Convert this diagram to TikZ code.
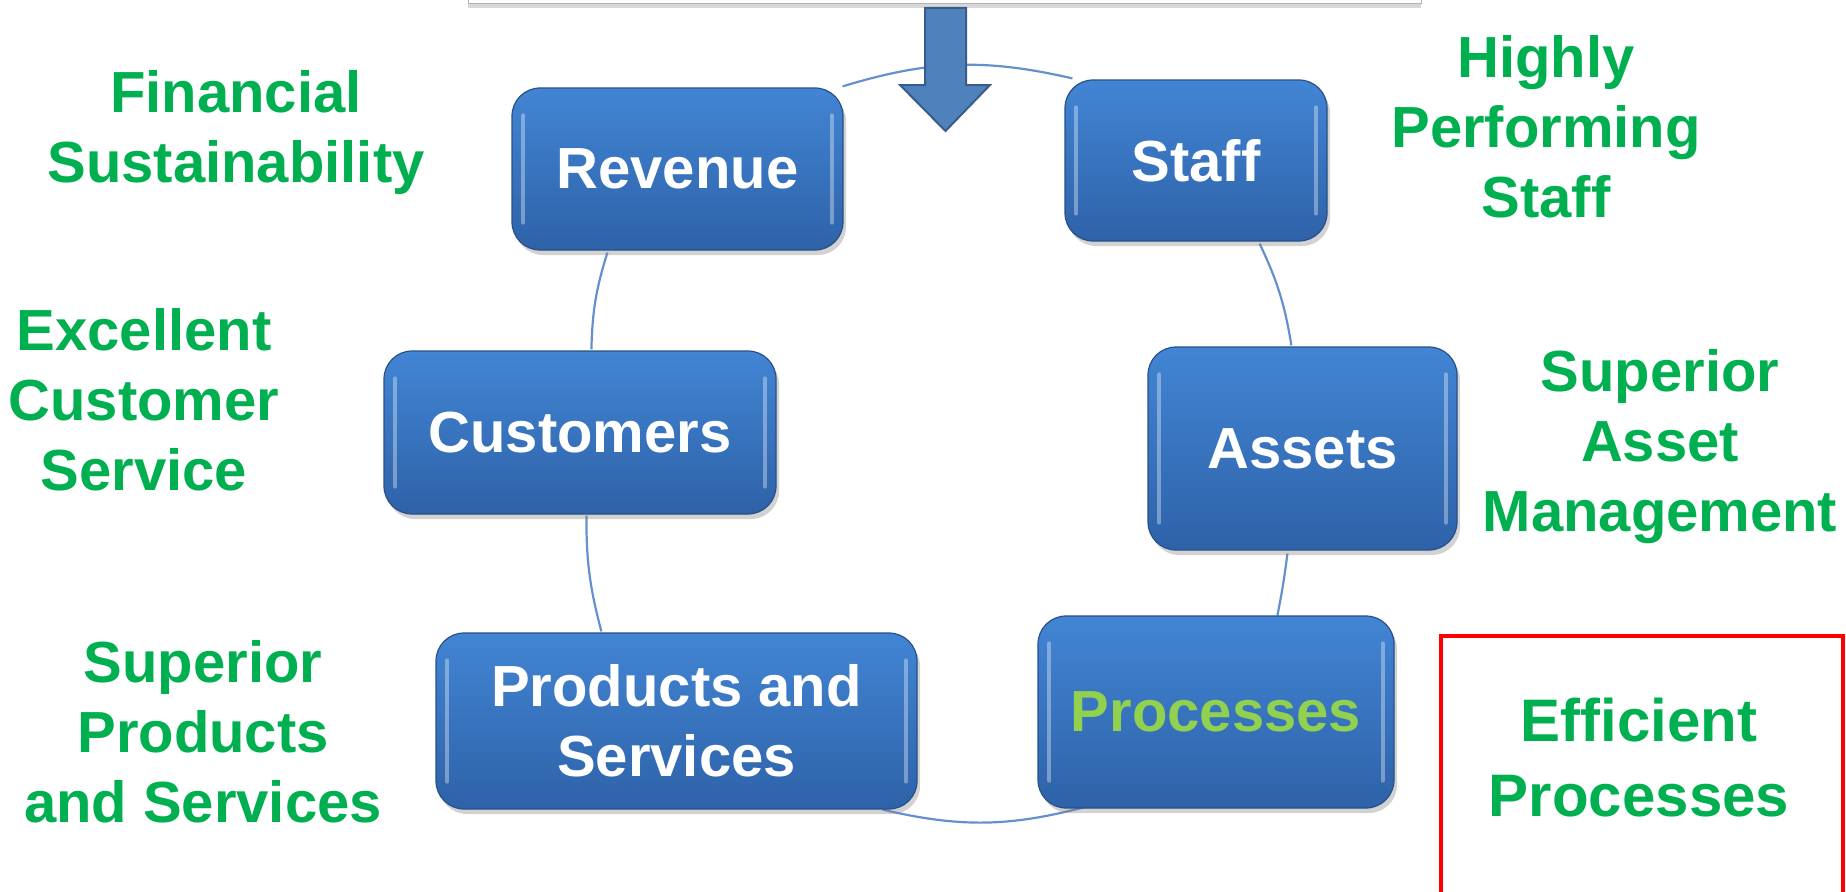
\documentclass[tikz,border=0pt]{standalone}
\usepackage{fontspec}
\setmainfont{Liberation Sans}
\usetikzlibrary{shadows,backgrounds}
\definecolor{lblgreen}{RGB}{0,176,80}
\definecolor{procgreen}{RGB}{146,208,80}
\definecolor{boxtop}{RGB}{66,133,212}
\definecolor{boxbot}{RGB}{46,98,168}
\definecolor{boxedge}{RGB}{40,80,135}
\definecolor{ringblue}{RGB}{100,145,205}
\definecolor{arrowfill}{RGB}{79,129,189}
\definecolor{arrowedge}{RGB}{56,93,138}
\begin{document}
\begin{tikzpicture}[x=1pt,y=-1pt,
  bluebox/.style={rectangle, rounded corners=28pt, top color=boxtop, bottom color=boxbot,
    draw=boxedge, line width=1.2pt, text=white, font=\bfseries\fontsize{58}{70}\selectfont,
    align=center, inner sep=0pt,
    drop shadow={shadow xshift=3pt, shadow yshift=-5pt, opacity=0.35}},
  lbl/.style={text=lblgreen, font=\bfseries\fontsize{58}{70}\selectfont, align=center, inner sep=0pt},
  gloss/.style={white, opacity=0.35, line width=4pt, line cap=round},
  ring/.style={ringblue, line width=2.2pt}]
\useasboundingbox (0,0) rectangle (1846,891);
% top box (cut off)
\node[draw=gray!60, fill=white, line width=1pt, minimum width=953, minimum height=80, inner sep=0pt,
  drop shadow={shadow xshift=0pt, shadow yshift=-4pt, opacity=0.3}] (top) at (944.5,-36) {};
% boxes
\node[bluebox, minimum width=331, minimum height=162] (rev) at (677.5,169) {Revenue};
\node[bluebox, minimum width=262, minimum height=161] (staff) at (1196,160.5) {Staff};
\node[bluebox, minimum width=392, minimum height=163] (cust) at (580,432.5) {Customers};
\node[bluebox, minimum width=309, minimum height=203] (assets) at (1302.5,448.5) {Assets};
\node[bluebox, minimum width=481, minimum height=176] (prod) at (676.5,721) {Products and\\Services};
\node[bluebox, minimum width=356, minimum height=192, text=procgreen] (proc) at (1216,712) {Processes};
\foreach \n in {rev,staff,cust,assets,prod,proc}{
  \draw[gloss] ([shift={(12,28)}]\n.north west) -- ([shift={(12,-28)}]\n.south west);
  \draw[gloss] ([shift={(-12,28)}]\n.north east) -- ([shift={(-12,-28)}]\n.south east);
}
% ring segments (behind boxes)
\begin{scope}[on background layer]
\fill[white] (0,0) rectangle (1846,891);
\draw[ring] ([shift={(-1,-1)}]rev.north east) to[bend left=15] ([shift={(8,-1)}]staff.north west);
\draw[ring] ([shift={(-68,2)}]staff.south east) to[bend left=8] ([shift={(144,-1)}]assets.north west);
\draw[ring] ([shift={(140,3)}]assets.south west) to[bend left=2] ([shift={(240,0)}]proc.north west);
\draw[ring] ([shift={(49,-2)}]proc.south west) to[bend left=14] ([shift={(-35,0)}]prod.south east);
\draw[ring] ([shift={(166,-1)}]prod.north west) to[bend left=7.5] ([shift={(203,1)}]cust.south west);
\draw[ring] ([shift={(208,-1)}]cust.north west) to[bend left=8] ([shift={(96,2)}]rev.south west);
\end{scope}
% block arrow
\draw[fill=arrowfill, draw=arrowedge, line width=2pt, line join=miter]
  (925,8) -- (966,8) -- (966,85) -- (990,85) -- (945.5,131) -- (900,85) -- (925,85) -- cycle;
% labels
\node[lbl] (l1) at (236,133) {Financial\\Sustainability};
\node[lbl] (l2) at (144,400) {Excellent\\Customer\\Service};
\node[lbl] (l3) at (203,732) {Superior\\Products\\and Services};
\node[lbl] (l4) at (1546,127) {Highly\\Performing\\Staff};
\node[lbl] (l5) at (1660,447) {Superior\\Asset\\Management};
% highlighted box
\node[draw=red, line width=4.5pt, minimum width=402, minimum height=270, inner sep=0pt] (effbox) at (1642,771) {};
\node[lbl, font=\bfseries\fontsize{60}{75}\selectfont] (eff) at (1639,758) {Efficient\\Processes};
\end{tikzpicture}
\end{document}
